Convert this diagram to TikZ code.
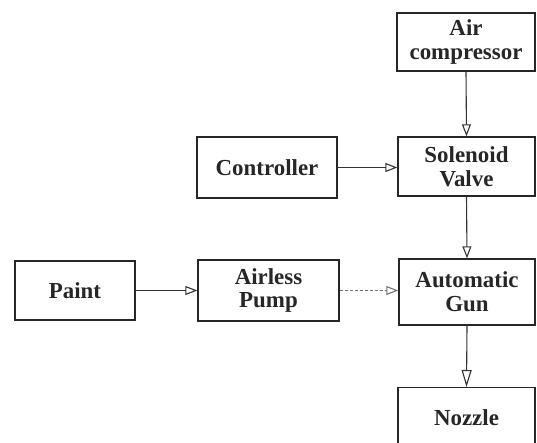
\documentclass[tikz,border=0pt]{standalone}
\usepackage{fontspec}
\setmainfont{Liberation Serif}
\usetikzlibrary{arrows.meta}
\begin{document}
\begin{tikzpicture}[x=1bp,y=-1bp,
  txt/.style={font=\fontsize{23}{24}\selectfont\bfseries, text=black!85},
  blk/.style={txt, draw=black!85, line width=1.4bp, rectangle, inner sep=0pt, align=center},
  conn/.style={draw=black!80, line width=1.1bp, -{Triangle[open, length=12bp, width=9bp, line width=1.1bp]}}]
\useasboundingbox (0,0) rectangle (537,443);
\clip (0,0) rectangle (537,443);
\node[blk, minimum width=138bp, minimum height=58bp] (air) at (466,42) {Air\\compressor};
\node[blk, minimum width=137bp, minimum height=59bp] (sol) at (466.5,166.5) {Solenoid\\Valve};
\node[blk, minimum width=140bp, minimum height=61bp] (ctrl) at (267,167.5) {Controller};
\node[blk, minimum width=120bp, minimum height=59bp] (paint) at (75,290.5) {Paint};
\node[blk, minimum width=141bp, minimum height=61bp] (pump) at (268.5,290.5) {Airless\\Pump};
\node[blk, minimum width=136bp, minimum height=66bp] (gun) at (467,292) {Automatic\\Gun};
\node[blk, minimum width=137bp, minimum height=62bp, anchor=north] (noz) at (466.5,387) {};
\node[txt] (noztext) at (466.5,418) {Nozzle};
\draw[conn] (air.south) -- (sol.north);
\draw[conn] (ctrl.east) -- (ctrl.east -| sol.west);
\draw[conn] (sol.south) -- (gun.north);
\draw[conn] (paint.east) -- (paint.east -| pump.west);
\draw[conn, draw=black!55, densely dashed] (pump.east) -- (pump.east -| gun.west);
\draw[conn, -{Triangle[open, length=17bp, width=10bp, line width=1.1bp]}] (gun.south) -- (noz.north);
\end{tikzpicture}
\end{document}
